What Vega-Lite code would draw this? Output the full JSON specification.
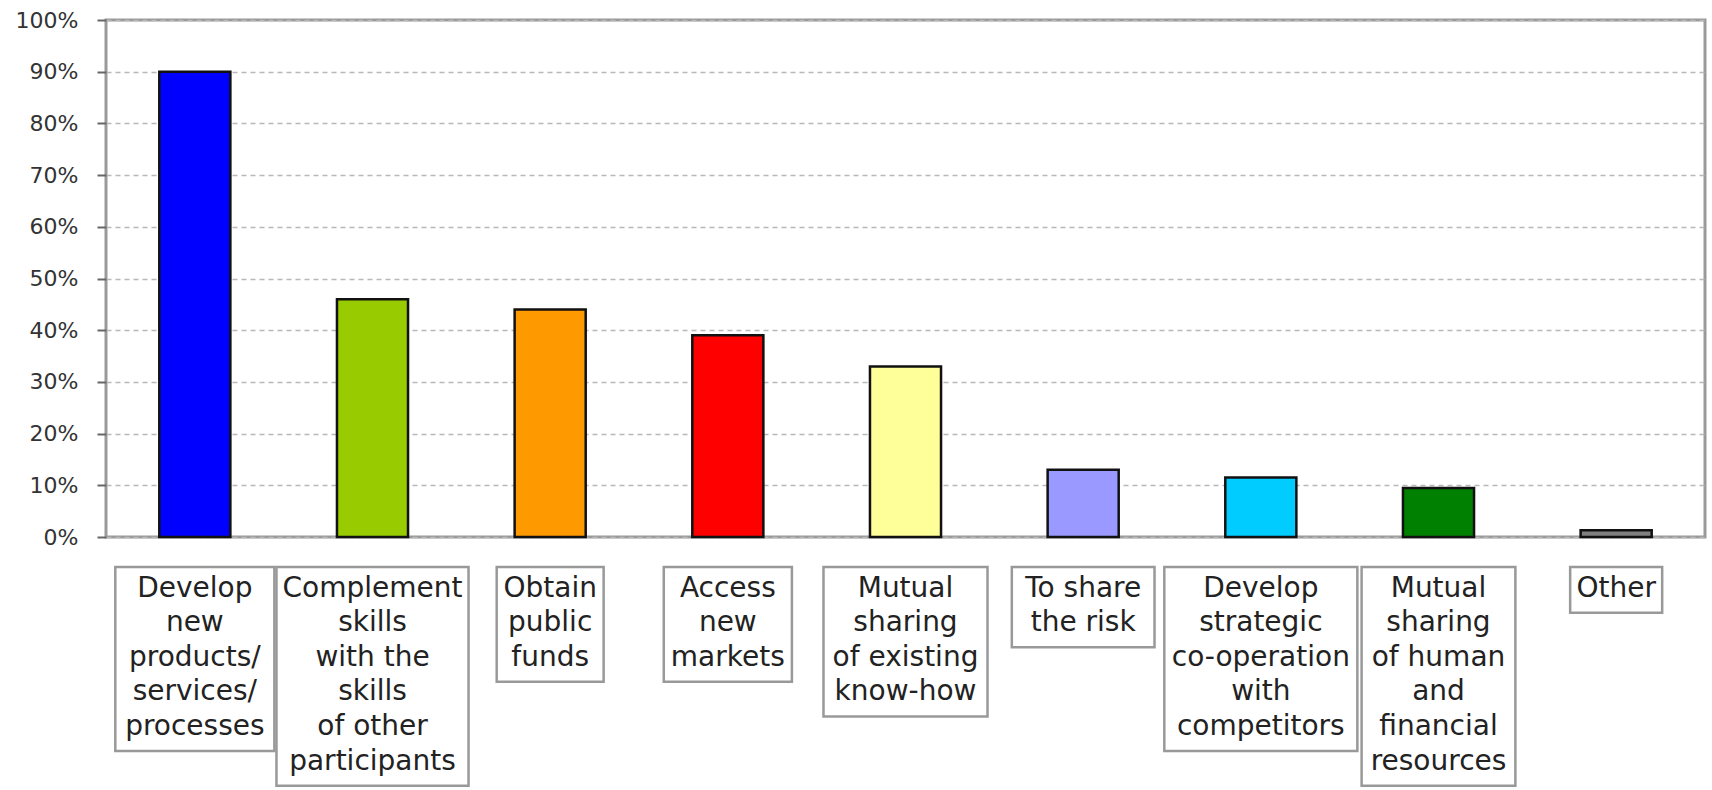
{
  "$schema": "https://vega.github.io/schema/vega-lite/v6.json",
  "width": 1599,
  "height": 517,
  "autosize": {"type": "none"},
  "padding": {"left": 106, "top": 20, "right": 7, "bottom": 253},
  "background": "white",
  "config": {
    "view": {"stroke": "#9a9a9a", "strokeWidth": 3},
    "font": "DejaVu Sans"
  },
  "data": {
    "values": [
      {"reason": "Develop\nnew\nproducts/\nservices/\nprocesses", "share": 90},
      {"reason": "Complement\nskills\nwith the\nskills\nof other\nparticipants", "share": 46},
      {"reason": "Obtain\npublic\nfunds", "share": 44},
      {"reason": "Access\nnew\nmarkets", "share": 39},
      {"reason": "Mutual\nsharing\nof existing\nknow-how", "share": 33},
      {"reason": "To share\nthe risk", "share": 13},
      {"reason": "Develop\nstrategic\nco-operation\nwith\ncompetitors", "share": 11.5},
      {"reason": "Mutual\nsharing\nof human\nand\nfinancial\nresources", "share": 9.5},
      {"reason": "Other", "share": 1.3}
    ]
  },
  "layer": [
    {
      "mark": {"type": "bar", "stroke": "#111111", "strokeWidth": 2.5},
      "encoding": {
        "x": {
          "field": "reason",
          "type": "nominal",
          "sort": null,
          "axis": null,
          "scale": {"paddingInner": 0.6, "paddingOuter": 0.3}
        },
        "y": {
          "field": "share",
          "type": "quantitative",
          "scale": {"domain": [0, 100], "nice": false},
          "axis": {
            "title": null,
            "values": [0, 10, 20, 30, 40, 50, 60, 70, 80, 90, 100],
            "labelExpr": "datum.value + '%'",
            "labelFont": "DejaVu Sans",
            "labelFontSize": 22,
            "labelColor": "#333333",
            "labelPadding": 19,
            "domain": false,
            "ticks": true,
            "tickSize": 9,
            "tickColor": "#666666",
            "tickWidth": 2,
            "grid": true,
            "gridColor": "#b8b8b8",
            "gridDash": [5, 4],
            "gridWidth": 1.5
          }
        },
        "color": {
          "field": "reason",
          "type": "nominal",
          "sort": null,
          "legend": null,
          "scale": {
            "range": ["#0000FF", "#99CC00", "#FF9900", "#FF0000", "#FFFF99", "#9999FF", "#00CCFF", "#008000", "#808080"]
          }
        }
      }
    },
    {
      "transform": [
        {"calculate": "0", "as": "bt"},
        {"calculate": "0.22", "as": "ty"},
        {"calculate": "length(split(datum.reason, '\\n')) + 0.32", "as": "bb"}
      ],
      "layer": [
        {
          "transform": [
            {"calculate": "split(datum.reason, '\\n')", "as": "lines"},
            {"flatten": ["lines"], "as": ["line"]},
            {"calculate": "0.625 * length(datum.line) - 0.347 * (length(datum.line) - length(replace(datum.line, regexp('[ilj]', 'g'), ''))) - 0.255 * (length(datum.line) - length(replace(datum.line, regexp('[ftr /-]', 'g'), ''))) - 0.065 * (length(datum.line) - length(replace(datum.line, regexp('[sckvxyz]', 'g'), ''))) + 0.27 * (length(datum.line) - length(replace(datum.line, regexp('[mw]', 'g'), ''))) + 0.1 * (length(datum.line) - length(replace(datum.line, regexp('[A-Z]', 'g'), '')))", "as": "lw"},
            {"aggregate": [{"op": "max", "field": "lw", "as": "mw"}], "groupby": ["reason", "bt", "bb"]}
          ],
          "mark": {
            "type": "bar",
            "fill": "white",
            "stroke": "#999999",
            "strokeWidth": 2.5,
            "width": {"expr": "datum.mw * 28 + 16"}
          },
          "encoding": {
            "x": {"field": "reason", "type": "nominal", "sort": null},
            "y": {
              "field": "bt",
              "type": "quantitative",
              "scale": {"domain": [-15.81, -0.867], "reverse": true, "zero": false, "nice": false},
              "axis": null
            },
            "y2": {"field": "bb"}
          }
        },
        {
          "mark": {
            "type": "text",
            "font": "DejaVu Sans",
            "fontSize": 28,
            "lineHeight": 34.6,
            "lineBreak": "\n",
            "baseline": "top",
            "align": "center",
            "color": "#222222"
          },
          "encoding": {
            "x": {"field": "reason", "type": "nominal", "sort": null},
            "y": {"field": "ty", "type": "quantitative"},
            "text": {"field": "reason"}
          }
        }
      ]
    }
  ],
  "resolve": {"scale": {"y": "independent"}}
}
